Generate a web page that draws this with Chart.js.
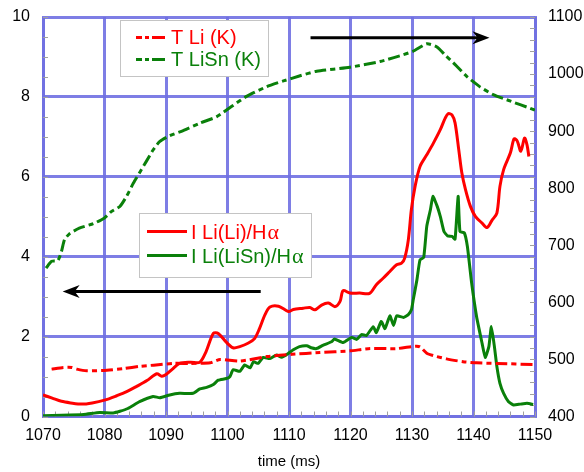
<!DOCTYPE html>
<html>
<head>
<meta charset="utf-8">
<script src="https://cdn.jsdelivr.net/npm/chart.js@4/dist/chart.umd.min.js"></script>
<style>
  html, body { margin: 0; padding: 0; background: #fff; }
  #wrap { width: 584px; height: 472px; }
</style>
</head>
<body>
<div id="wrap"><canvas id="c" width="584" height="472"></canvas></div>
<script>
// Line intensity ratio I Li(Li)/Hα (left axis)
const liLiTime = [1070,1071.5,1073,1074.5,1076.3,1078,1080,1082,1083.6,1085.3,1086.9,1088.5,1089.3,1090,1091,1092.2,1094,1095.5,1096.5,1097.7,1098.5,1099.8,1100.9,1102,1103.4,1104.4,1105.2,1106.1,1106.9,1108.3,1109.9,1110.7,1112.3,1113.4,1114.2,1115.3,1116.4,1117.5,1118.3,1118.8,1119.9,1121.5,1123.1,1124.2,1125.3,1126.4,1127.5,1128.3,1128.8,1129.4,1129.9,1130.5,1131.3,1132.4,1133.5,1134.6,1135.4,1135.9,1136.5,1137,1137.6,1138.1,1138.7,1139.5,1140.3,1141.4,1142.2,1143,1143.8,1144.3,1144.9,1146,1146.6,1147.1,1147.7,1148.3,1148.7,1149];
const liLiVal = [0.54,0.46,0.38,0.34,0.31,0.34,0.41,0.52,0.62,0.76,0.90,1.07,1.01,1.05,1.18,1.33,1.36,1.36,1.62,2.08,2.08,1.86,1.72,1.75,1.84,1.95,2.20,2.55,2.74,2.76,2.63,2.68,2.71,2.73,2.67,2.79,2.84,2.75,2.88,3.15,3.09,3.09,3.08,3.30,3.46,3.63,3.80,3.84,3.96,4.42,5.18,5.76,6.26,6.55,6.85,7.18,7.47,7.58,7.55,7.35,6.68,6.10,5.68,5.26,5.01,4.84,4.73,4.91,5.09,5.76,6.18,6.60,6.95,6.90,6.64,6.97,6.80,6.51];

// Line intensity ratio I Li(LiSn)/Hα (left axis)
const liSnTime = [1070,1073,1076.6,1079.2,1081.4,1082.5,1083.8,1085.7,1087.9,1089,1090.6,1092.2,1094.4,1095.5,1096.6,1097.7,1098.5,1099.8,1100.4,1100.9,1102,1102.8,1103.7,1104.2,1105,1105.8,1106.9,1108,1108.8,1109.9,1110.7,1111.7,1112.9,1113.6,1114.5,1115.5,1116.9,1117.4,1118.8,1120.2,1121,1121.8,1122.6,1123.7,1124.2,1125,1125.6,1126.4,1127,1127.5,1128.6,1129.4,1129.9,1130.2,1130.8,1131.3,1131.9,1132.4,1133,1133.4,1134.1,1134.6,1135.2,1135.8,1136.5,1137,1137.5,1137.8,1138.5,1139,1139.7,1140.5,1141.4,1141.9,1142.5,1142.9,1143.4,1143.8,1144.3,1144.9,1145.7,1146.5,1147.6,1148.7,1149.7];
const liSnVal = [0.02,0.03,0.05,0.10,0.09,0.13,0.20,0.37,0.50,0.47,0.54,0.58,0.58,0.69,0.73,0.80,0.91,0.95,1.00,1.17,1.13,1.29,1.22,1.37,1.33,1.48,1.45,1.54,1.48,1.58,1.67,1.75,1.77,1.72,1.70,1.78,1.87,1.94,1.85,1.98,1.93,2.05,2.03,2.25,2.10,2.38,2.20,2.52,2.28,2.52,2.48,2.55,2.67,2.92,3.42,3.92,3.98,4.76,5.18,5.51,5.26,5.01,4.63,4.52,4.51,4.44,5.51,4.63,4.60,4.26,3.34,2.50,1.83,1.48,1.75,2.25,1.75,1.25,0.83,0.58,0.37,0.29,0.31,0.33,0.30];

// Surface temperature T Li in K (right axis)
const tLiTime = [1071.4,1073.3,1074.7,1075.5,1077.1,1080.4,1083.1,1085.8,1088,1091.2,1093.9,1097.2,1098.8,1102,1106.4,1110.5,1115,1119.9,1123.2,1127.5,1130.5,1131.3,1132.4,1133.7,1135.6,1138.3,1140.5,1143.8,1150];
const tLiVal = [483,486,486,483,480,481,484,488,490,493,493,494,500,497,505,509,512,515,519,519,523,522,511,506,501,496,494,493,491];

// Surface temperature T LiSn in K (right axis)
const tSnTime = [1070.5,1071.4,1072.4,1073,1073.5,1074.3,1075.9,1078.2,1080,1081.1,1082.5,1083.6,1084.7,1085.8,1086.8,1087.9,1089,1090.6,1092.8,1095.5,1098.2,1100.9,1103.1,1106.4,1109.1,1111.8,1114.5,1119.9,1124.8,1128,1130.2,1132.4,1134,1135.6,1136.7,1138.9,1141,1143.2,1145.4,1150];
const tSnVal = [660,672,673,689,710,720,730,738,748,759,768,786,809,829,847,867,882,892,901,914,925,945,961,978,988,997,1005,1012,1022,1032,1040,1053,1048,1031,1020,996,978,964,955,937];

// Axis ranges and tick steps
const xRange = [1070, 1150];
const xStep = 10;
const leftRange = [0, 10];
const leftStep = 2;
const rightRange = [400, 1100];
const rightStep = 100;

// Legend texts
const legendTemp = ['T Li (K)', 'T LiSn (K)'];
const legendRatio = ['I Li(Li)/H', 'I Li(LiSn)/H'];

const RED = '#ff0000';
const GREEN = '#0a800a';
const GRID = 'rgba(112,112,226,0.9)';
const SANS = '"Liberation Sans", Arial, sans-serif';
const SERIF = '"Liberation Serif", "Times New Roman", serif';

const pts = (xs, ys) => xs.map((x, i) => ({ x, y: ys[i] }));

// Minor tick marks along the inner edges of the frame
const minorTicks = {
  id: 'minorTicks',
  beforeDatasetsDraw(chart) {
    const { ctx, chartArea: a, scales } = chart;
    ctx.save();
    ctx.strokeStyle = '#a0a0a0';
    ctx.lineWidth = 1;
    ctx.beginPath();
    for (let v = leftRange[0]; v <= leftRange[1] + 1e-9; v += 0.5) {
      const py = Math.round(scales.y.getPixelForValue(v)) + 0.5;
      ctx.moveTo(a.left, py); ctx.lineTo(a.left + 5, py);
    }
    for (let v = rightRange[0]; v <= rightRange[1]; v += 20) {
      const py = Math.round(scales.y2.getPixelForValue(v)) + 0.5;
      ctx.moveTo(a.right - 5, py); ctx.lineTo(a.right, py);
    }
    for (let v = xRange[0]; v <= xRange[1]; v += 2) {
      const px = Math.round(scales.x.getPixelForValue(v)) + 0.5;
      ctx.moveTo(px, a.bottom); ctx.lineTo(px, a.bottom - 5);
    }
    ctx.stroke();
    ctx.restore();
  }
};

// Legend boxes and axis-direction arrows
const overlays = {
  id: 'overlays',
  afterDatasetsDraw(chart) {
    const { ctx, scales } = chart;
    const X = v => scales.x.getPixelForValue(v);
    const Y = v => scales.y.getPixelForValue(v);

    function box(x0, y0, x1, y1) {
      ctx.save();
      ctx.fillStyle = '#fff';
      ctx.fillRect(x0, y0, x1 - x0, y1 - y0);
      ctx.strokeStyle = '#c4c4c4';
      ctx.lineWidth = 1;
      ctx.strokeRect(x0 + 0.5, y0 + 0.5, x1 - x0, y1 - y0);
      ctx.restore();
    }
    function sample(x0, x1, y, color, dashed) {
      ctx.save();
      ctx.strokeStyle = color;
      ctx.lineWidth = 3;
      ctx.beginPath();
      if (dashed) {
        ctx.moveTo(x0, y); ctx.lineTo(x0 + 6, y);
        ctx.moveTo(x0 + 9, y); ctx.lineTo(x0 + 13, y);
        ctx.moveTo(x0 + 16, y); ctx.lineTo(x1, y);
      } else {
        ctx.moveTo(x0, y); ctx.lineTo(x1, y);
      }
      ctx.stroke();
      ctx.restore();
    }
    function label(text, x, y, color, greek) {
      ctx.save();
      ctx.fillStyle = color;
      ctx.textBaseline = 'middle';
      ctx.textAlign = 'left';
      ctx.font = '20px ' + SANS;
      ctx.fillText(text, x, y);
      if (greek) {
        const w = ctx.measureText(text).width;
        ctx.font = '22px ' + SERIF;
        ctx.fillText(greek, x + w + 1, y);
      }
      ctx.restore();
    }

    // temperature legend
    box(120, 20, 268, 76);
    sample(136, 165, 37.5, RED, true);
    sample(136, 165, 59.5, GREEN, true);
    label(legendTemp[0], 171, 38.5, RED);
    label(legendTemp[1], 171, 60.5, GREEN);

    // intensity-ratio legend
    box(139, 213, 311, 277);
    sample(147, 187, 231.5, RED, false);
    sample(147, 187, 255.5, GREEN, false);
    label(legendRatio[0], 191, 233.5, RED, 'α');
    label(legendRatio[1], 191, 257.5, GREEN, 'α');

    function arrow(x0, x1, y) {
      const dir = Math.sign(x1 - x0);
      ctx.save();
      ctx.strokeStyle = '#000';
      ctx.fillStyle = '#000';
      ctx.lineWidth = 3;
      ctx.beginPath();
      ctx.moveTo(x0, y); ctx.lineTo(x1 - dir * 10, y);
      ctx.stroke();
      ctx.beginPath();
      ctx.moveTo(x1, y);
      ctx.lineTo(x1 - dir * 17, y - 6.5);
      ctx.lineTo(x1 - dir * 12, y);
      ctx.lineTo(x1 - dir * 17, y + 6.5);
      ctx.closePath();
      ctx.fill();
      ctx.restore();
    }
    arrow(X(1105.4), X(1073.2), Y(3.13));
    arrow(X(1113.5), X(1142.6), Y(9.48));
  }
};

const tickFont = { family: SANS, size: 16 };

// vertical axes: fixed width, no extra room reserved for end labels
const fitVertical = w => s => { s.width = w; s.paddingTop = 0; s.paddingBottom = 0; };

new Chart(document.getElementById('c'), {
  type: 'line',
  data: {
    datasets: [
      { label: legendTemp[0], data: pts(tLiTime, tLiVal), yAxisID: 'y2', borderColor: RED, borderWidth: 3, borderDash: [12, 4, 5, 4], pointRadius: 0, tension: 0.2 },
      { label: legendTemp[1], data: pts(tSnTime, tSnVal), yAxisID: 'y2', borderColor: GREEN, borderWidth: 3, borderDash: [12, 4, 5, 4], pointRadius: 0, tension: 0.2 },
      { label: legendRatio[1] + 'α', data: pts(liSnTime, liSnVal), yAxisID: 'y', borderColor: GREEN, borderWidth: 3, pointRadius: 0, tension: 0.15 },
      { label: legendRatio[0] + 'α', data: pts(liLiTime, liLiVal), yAxisID: 'y', borderColor: RED, borderWidth: 3, pointRadius: 0, tension: 0.3 }
    ]
  },
  options: {
    responsive: false,
    animation: false,
    events: [],
    layout: { padding: { top: 17, left: 0, right: 0, bottom: 0 } },
    plugins: { legend: { display: false }, tooltip: { enabled: false } },
    scales: {
      x: {
        type: 'linear', min: xRange[0], max: xRange[1],
        ticks: { stepSize: xStep, color: '#000', font: tickFont, padding: 9, maxRotation: 0, callback: v => String(v) },
        grid: { color: GRID, lineWidth: 3, drawTicks: false },
        border: { display: true, color: GRID, width: 3 },
        title: { display: true, text: 'time (ms)', color: '#000', font: { family: SANS, size: 15 }, padding: { top: 0, bottom: 1 } },
        afterFit(s) { s.height = 55.5; }
      },
      y: {
        position: 'left', min: leftRange[0], max: leftRange[1],
        ticks: { stepSize: leftStep, color: '#000', font: tickFont, padding: 13 },
        grid: { color: GRID, lineWidth: 3, drawTicks: false },
        border: { display: true, color: GRID, width: 3 },
        afterFit: fitVertical(43)
      },
      y2: {
        position: 'right', min: rightRange[0], max: rightRange[1],
        ticks: { stepSize: rightStep, color: '#000', font: tickFont, padding: 13, callback: v => String(v) },
        grid: { display: false, drawTicks: false },
        border: { display: true, color: GRID, width: 3 },
        afterFit: fitVertical(49)
      }
    }
  },
  plugins: [minorTicks, overlays]
});
</script>
</body>
</html>
